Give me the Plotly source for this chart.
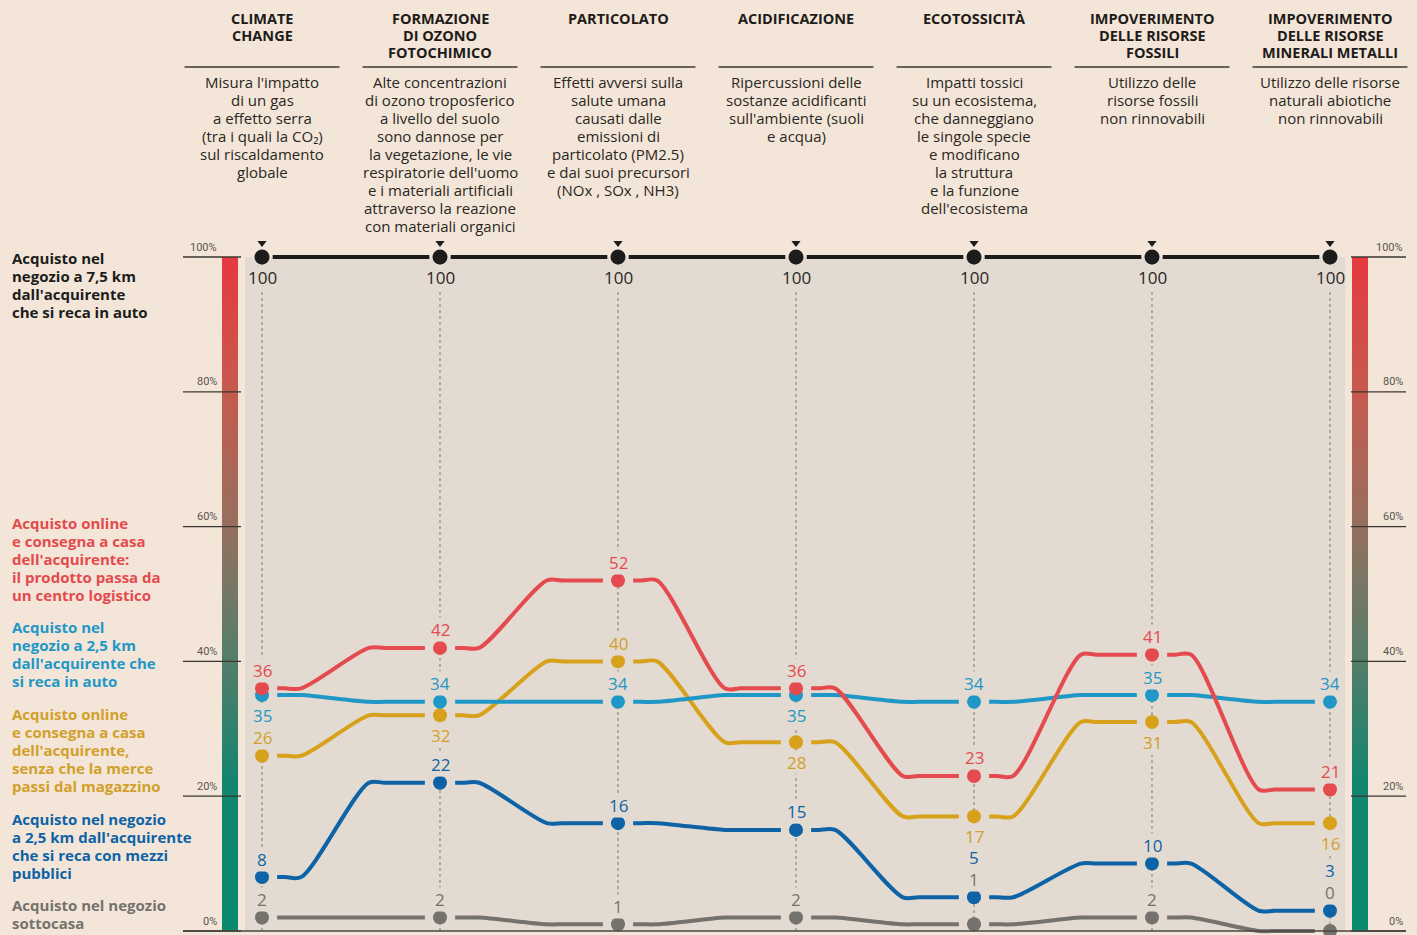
import plotly.graph_objects as go

# ---------------- data ----------------
category_titles = [
    "CLIMATE<br>CHANGE",
    "FORMAZIONE<br>DI OZONO<br>FOTOCHIMICO",
    "PARTICOLATO",
    "ACIDIFICAZIONE",
    "ECOTOSSICITÀ",
    "IMPOVERIMENTO<br>DELLE RISORSE<br>FOSSILI",
    "IMPOVERIMENTO<br>DELLE RISORSE<br>MINERALI METALLI",
]
category_descriptions = [
    "Misura l'impatto<br>di un gas<br>a effetto serra<br>(tra i quali la CO₂)<br>sul riscaldamento<br>globale",
    "Alte concentrazioni<br>di ozono troposferico<br>a livello del suolo<br>sono dannose per<br>la vegetazione, le vie<br>respiratorie dell'uomo<br>e i materiali artificiali<br>attraverso la reazione<br>con materiali organici",
    "Effetti avversi sulla<br>salute umana<br>causati dalle<br>emissioni di<br>particolato (PM2.5)<br>e dai suoi precursori<br>(NOx , SOx , NH3)",
    "Ripercussioni delle<br>sostanze acidificanti<br>sull'ambiente (suoli<br>e acqua)",
    "Impatti tossici<br>su un ecosistema,<br>che danneggiano<br>le singole specie<br>e modificano<br>la struttura<br>e la funzione<br>dell'ecosistema",
    "Utilizzo delle<br>risorse fossili<br>non rinnovabili",
    "Utilizzo delle risorse<br>naturali abiotiche<br>non rinnovabili",
]

store_75_car = [100, 100, 100, 100, 100, 100, 100]
online_logistic = [36, 42, 52, 36, 23, 41, 21]
store_25_car = [35, 34, 34, 35, 34, 35, 34]
online_direct = [26, 32, 40, 28, 17, 31, 16]
store_25_public = [8, 22, 16, 15, 5, 10, 3]
store_nearby = [2, 2, 1, 2, 1, 2, 0]

series_names = [
    "Acquisto nel<br>negozio a 7,5 km<br>dall'acquirente<br>che si reca in auto",
    "Acquisto online<br>e consegna a casa<br>dell'acquirente:<br>il prodotto passa da<br>un centro logistico",
    "Acquisto nel<br>negozio a 2,5 km<br>dall'acquirente che<br>si reca in auto",
    "Acquisto online<br>e consegna a casa<br>dell'acquirente,<br>senza che la merce<br>passi dal magazzino",
    "Acquisto nel negozio<br>a 2,5 km dall'acquirente<br>che si reca con mezzi<br>pubblici",
    "Acquisto nel negozio<br>sottocasa",
]

y_ticks = [0, 20, 40, 60, 80, 100]
y_tick_labels = ["0%", "20%", "40%", "60%", "80%", "100%"]

# ---------------- styling / layout ----------------
W, H = 1417, 935
BG = "#f3e6d8"
PANEL = "#e3dbd1"
C_BLACK = "#1c1c1c"
C_RED = "#e44a4e"
C_CYAN = "#1f97c7"
C_YEL = "#d8a11c"
C_DBLUE = "#0e62a6"
C_GRAY = "#75726d"
TXT_YEL = "#d2a02a"
NUM_FONT = "Open Sans"
TXT_FONT = "Open Sans"

X0_PX, DX_PX = 262, 178          # pixel position of first column, column spacing
Y0_PX, PX_PER_UNIT = 931, 6.74   # pixel position of 0%, pixels per percent


def px_x(px):
    return (px - X0_PX) / DX_PX


def px_y(py):
    return (Y0_PX - py) / PX_PER_UNIT


def paper_y(py):
    return 1 - py / H


x_range = [px_x(0), px_x(W)]
y_range = [px_y(H), px_y(0)]

fig = go.Figure()
shapes = []
annotations = []

# shaded panel
shapes.append(dict(type="rect", xref="x", yref="y", x0=px_x(245), x1=px_x(1345), y0=0, y1=100,
                   fillcolor=PANEL, line_width=0, layer="below"))
# vertical dotted guides
n = len(category_titles)
for i in range(n):
    shapes.append(dict(type="line", xref="x", yref="y", x0=i, x1=i, y0=0, y1=100,
                       line=dict(color="#8d8984", width=1.2, dash="dot"), layer="below"))

# gradient bars (left and right)
grad_scale = [[0, "#0a8a6e"], [0.22, "#12856f"], [0.42, "#5a7d69"], [0.6, "#95705f"],
              [0.8, "#c65a4f"], [1, "#e6393f"]]
for (a, b) in [(px_x(222), px_x(238)), (px_x(1352), px_x(1368))]:
    fig.add_trace(go.Scatter(x=[a, b, b, a, a], y=[0, 0, 100, 100, 0], mode="lines",
                             fill="toself", line=dict(width=0),
                             fillgradient=dict(type="vertical", colorscale=grad_scale, start=0, stop=100),
                             hoverinfo="skip", showlegend=False))

# tick lines & labels
for t, lab in zip(y_ticks, y_tick_labels):
    shapes.append(dict(type="line", xref="x", yref="y", x0=px_x(183), x1=px_x(241), y0=t, y1=t,
                       line=dict(color="#3b3632", width=1.3)))
    shapes.append(dict(type="line", xref="x", yref="y", x0=px_x(1351), x1=px_x(1406), y0=t, y1=t,
                       line=dict(color="#3b3632", width=1.3)))
    annotations.append(dict(xref="x", yref="y", x=px_x(219), y=t, yshift=10, text=lab, showarrow=False,
                            xanchor="right", yanchor="middle",
                            font=dict(family="Roboto", size=11, color="#5a5652")))
    annotations.append(dict(xref="x", yref="y", x=px_x(1405), y=t, yshift=10, text=lab, showarrow=False,
                            xanchor="right", yanchor="middle",
                            font=dict(family="Roboto", size=11, color="#5a5652")))
# baseline
shapes.append(dict(type="line", xref="x", yref="y", x0=px_x(183), x1=px_x(1406), y0=0, y1=0,
                   line=dict(color="#4a4541", width=1.5)))

# ---------------- series lines ----------------
GAP, P0, P1, P2, P3 = 0.085, 0.13, 0.22, 0.6, 0.69


def connector(vals):
    xs, ys = [], []
    for i in range(len(vals) - 1):
        xs += [i + GAP, i + P0, i + P1, i + P2, i + P3, i + 1 - GAP, None]
        ys += [vals[i], vals[i], vals[i], vals[i + 1], vals[i + 1], vals[i + 1], None]
    return xs, ys


series = [
    (store_nearby, C_GRAY, C_GRAY),
    (store_25_public, C_DBLUE, C_DBLUE),
    (online_direct, C_YEL, TXT_YEL),
    (store_25_car, C_CYAN, C_CYAN),
    (online_logistic, C_RED, C_RED),
]
for vals, col, _ in series:
    xs, ys = connector(vals)
    fig.add_trace(go.Scatter(x=xs, y=ys, mode="lines", line=dict(color=col, width=4, shape="spline", smoothing=0.85),
                             connectgaps=False, hoverinfo="skip", showlegend=False))
for vals, col, _ in series:
    fig.add_trace(go.Scatter(x=list(range(n)), y=vals, mode="markers",
                             marker=dict(color=col, size=14, line=dict(width=0)),
                             hoverinfo="skip", showlegend=False))

# top reference line (100)
xs, ys = [], []
for i in range(n - 1):
    xs += [i + 0.06, i + 1 - 0.06, None]
    ys += [store_75_car[i], store_75_car[i + 1], None]
fig.add_trace(go.Scatter(x=xs, y=ys, mode="lines", line=dict(color=C_BLACK, width=4),
                         connectgaps=False, hoverinfo="skip", showlegend=False))
fig.add_trace(go.Scatter(x=list(range(n)), y=store_75_car, mode="markers",
                         marker=dict(color=C_BLACK, size=15), hoverinfo="skip", showlegend=False))
fig.add_trace(go.Scatter(x=list(range(n)), y=[v + px_y(917) for v in store_75_car], mode="markers",
                         marker=dict(color=C_BLACK, size=8, symbol="triangle-down"),
                         hoverinfo="skip", showlegend=False))

# ---------------- value labels ----------------
A, B = 18, -20  # above / below (px)
label_shift = {
    "gray": [A, A, A, A, 45, A, 39],
    "dblue": [A, A, A, A, 40, A, 40],
    "yel": [A, B, A, B, B, B, B],
    "cyan": [B, A, A, B, A, A, A],
    "red": [A, A, A, A, A, A, A],
}
for (vals, col, tcol), key in zip(series, ["gray", "dblue", "yel", "cyan", "red"]):
    for i, v in enumerate(vals):
        annotations.append(dict(xref="x", yref="y", x=i, y=v, yshift=label_shift[key][i], text=str(v),
                                showarrow=False, xanchor="center", yanchor="middle",
                                bgcolor=PANEL, borderpad=0,
                                font=dict(family=NUM_FONT, size=17, color=tcol)))
for i, v in enumerate(store_75_car):
    annotations.append(dict(xref="x", yref="y", x=i, y=v, yshift=-20, text=str(v),
                            showarrow=False, xanchor="center", yanchor="middle",
                            bgcolor=PANEL, borderpad=0,
                            font=dict(family=NUM_FONT, size=17, color="#2a2724")))


# ---------------- text blocks ----------------
def text_block(x, xref, first_py, spacing, text, font, xanchor="center"):
    for k, line in enumerate(text.split("<br>")):
        annotations.append(dict(xref=xref, yref="paper", x=x, y=paper_y(first_py + k * spacing),
                                text=line, showarrow=False, xanchor=xanchor, yanchor="middle",
                                font=font))


for i in range(n):
    text_block(i, "x", 18, 17, category_titles[i],
               dict(family="Open Sans", size=14.5, color="#1e1b19", weight="bold"))
    shapes.append(dict(type="line", xref="x", yref="paper", x0=i - 0.435, x1=i + 0.435,
                       y0=paper_y(67), y1=paper_y(67), line=dict(color="#3b3632", width=1.3)))
    text_block(i, "x", 82, 18, category_descriptions[i],
               dict(family=TXT_FONT, size=15, color="#2a2623"))

legend_pos = [258, 523, 627, 714, 819, 905]
legend_cols = [C_BLACK, C_RED, C_CYAN, TXT_YEL, C_DBLUE, C_GRAY]
for name, py, col in zip(series_names, legend_pos, legend_cols):
    text_block(10 / W, "paper", py, 18, name,
               dict(family="Open Sans", size=15, color=col, weight="bold"), xanchor="left")

fig.update_layout(
    width=W, height=H,
    margin=dict(l=0, r=0, t=0, b=0),
    paper_bgcolor=BG, plot_bgcolor=BG,
    xaxis=dict(range=x_range, visible=False, fixedrange=True),
    yaxis=dict(range=y_range, visible=False, fixedrange=True),
    shapes=shapes, annotations=annotations, showlegend=False,
)

fig.write_html("out.html", config={"displayModeBar": False},
               post_script="document.body.style.margin='0';document.body.style.background='" + BG + "';")
